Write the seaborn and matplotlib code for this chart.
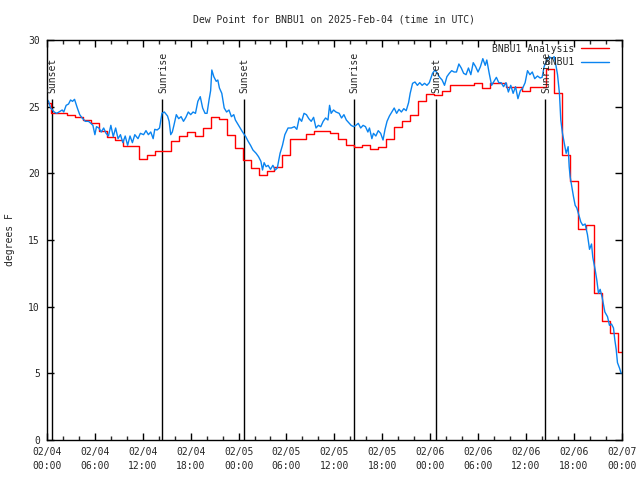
import numpy as np
import pandas as pd
import matplotlib
matplotlib.use("Agg")
import matplotlib.pyplot as plt
import seaborn as sns
from matplotlib.ticker import MultipleLocator

# ---------------- data (hours since 2025-02-04 00:00 UTC) ----------------
title = "Dew Point for BNBU1 on 2025-Feb-04 (time in UTC)"

# hourly analysis, each value holds from its hour to the next (step)
analysis_hours = np.arange(-0.5, 72.0, 1.0)
analysis_dewpt = [
    25.3, 24.5, 24.5, 24.4, 24.25, 24.0, 23.75, 23.2, 22.7, 22.5,
    22.05, 22.05, 21.05, 21.4, 21.7, 21.7, 22.4, 22.8, 23.1, 22.8,
    23.4, 24.2, 24.1, 22.9, 21.9, 21.0, 20.4, 19.9, 20.2, 20.5,
    21.4, 22.6, 22.6, 22.95, 23.2, 23.2, 23.0, 22.6, 22.1, 22.0,
    22.1, 21.8, 21.95, 22.55, 23.45, 23.95, 24.4, 25.45, 25.95, 25.9,
    26.2, 26.6, 26.6, 26.6, 26.75, 26.4, 26.75, 26.75, 26.45, 26.45,
    26.2, 26.45, 26.45, 27.8, 26.0, 21.4, 19.45, 15.8, 16.1, 11.0,
    8.9, 8.05, 6.6,
]

obs_hours = [
    0.0, 0.2, 0.45, 0.7, 0.9, 1.2, 1.5, 1.9, 2.1, 2.4, 2.7, 2.95, 3.2, 3.45, 3.8,
    4.1, 4.4, 4.8, 5.2, 5.5, 5.75, 6.0, 6.2, 6.5, 6.8, 7.1, 7.4, 7.7, 8.0, 8.3,
    8.6, 8.9, 9.2, 9.5, 9.8, 10.1, 10.4, 10.7, 11.0, 11.4, 11.7, 12.1, 12.4, 12.7, 13.0,
    13.3, 13.5, 13.8, 14.1, 14.4, 14.7, 15.1, 15.3, 15.5, 15.7, 15.9, 16.2, 16.5, 16.8, 17.1,
    17.4, 17.7, 18.0, 18.3, 18.6, 18.9, 19.2, 19.5, 19.8, 20.05, 20.3, 20.5, 20.65, 20.9, 21.2,
    21.4, 21.6, 21.9, 22.2, 22.5, 22.8, 23.1, 23.4, 23.6, 23.8, 24.2, 24.5, 24.9, 25.2, 25.5,
    25.8, 26.2, 26.5, 26.8, 27.0, 27.2, 27.45, 27.7, 28.0, 28.3, 28.6, 28.85, 29.2, 29.5, 29.8,
    30.2, 30.6, 31.0, 31.3, 31.6, 31.9, 32.2, 32.5, 32.8, 33.1, 33.4, 33.7, 34.0, 34.3, 34.6,
    34.9, 35.2, 35.4, 35.6, 35.9, 36.2, 36.6, 36.9, 37.2, 37.5, 37.8, 38.1, 38.4, 38.7, 39.0,
    39.3, 39.6, 39.9, 40.2, 40.4, 40.7, 40.9, 41.2, 41.5, 41.8, 42.1, 42.35, 42.6, 42.9, 43.2,
    43.5, 43.8, 44.1, 44.4, 44.7, 45.0, 45.3, 45.5, 45.8, 46.1, 46.4, 46.7, 47.0, 47.3, 47.6,
    47.9, 48.1, 48.3, 48.6, 48.9, 49.2, 49.5, 49.8, 50.1, 50.4, 50.7, 51.0, 51.3, 51.6, 51.9,
    52.2, 52.5, 52.8, 53.1, 53.4, 53.7, 54.0, 54.3, 54.6, 54.9, 55.1, 55.4, 55.7, 56.0, 56.3,
    56.6, 56.9, 57.2, 57.5, 57.8, 58.1, 58.4, 58.7, 59.0, 59.3, 59.6, 59.9, 60.2, 60.5, 60.8,
    61.1, 61.45, 61.78, 62.03, 62.28, 62.62, 62.91, 63.25, 63.54, 63.79, 63.96, 64.2, 64.37, 64.58, 64.79,
    65.04, 65.29, 65.42, 65.54, 65.75, 65.96, 66.17, 66.38, 66.67, 66.88, 67.13, 67.42, 67.71, 67.97, 68.22,
    68.38, 68.68, 68.88, 69.09, 69.3, 69.55, 69.89, 70.22, 70.47, 70.72, 70.97, 71.14, 71.31, 71.47, 71.72,
    71.93,
]
obs_dewpt = [
    25.55, 25.4, 24.9, 24.75, 24.6, 24.5, 24.6, 24.75, 24.6, 25.1, 25.2, 25.5, 25.4, 25.55, 24.9,
    24.4, 24.15, 23.9, 23.9, 23.75, 23.6, 22.9, 23.5, 23.4, 23.1, 23.4, 23.0, 22.8, 23.6, 22.75,
    23.4, 22.6, 22.9, 22.3, 22.8, 22.1, 22.8, 22.3, 22.9, 22.6, 23.0, 22.9, 23.2, 22.9, 23.1,
    22.6, 23.3, 23.25, 23.4, 24.5, 24.6, 24.3, 23.9, 22.9, 23.1, 23.6, 24.4, 24.1, 24.25, 23.9,
    24.2, 24.6, 24.4, 24.6, 24.5, 25.4, 25.75, 24.9, 24.5, 24.5, 25.5, 26.2, 27.75, 27.25, 26.9,
    27.0, 26.4, 26.0, 24.9, 24.6, 24.75, 24.25, 24.4, 24.0, 23.8, 23.4, 23.1, 22.75, 22.4, 22.1,
    21.75, 21.5, 21.25, 20.9, 20.25, 20.8, 20.5, 20.6, 20.3, 20.6, 20.25, 20.4, 21.5, 22.1, 22.9,
    23.4, 23.4, 23.5, 23.3, 24.15, 23.9, 24.5, 24.4, 24.1, 23.9, 24.2, 23.4, 23.6, 23.5, 23.9,
    24.15, 24.0, 25.1, 24.5, 24.75, 24.6, 24.5, 24.15, 24.4, 24.0, 23.8, 23.6, 23.5, 23.6, 23.75,
    23.4, 23.6, 23.5, 23.1, 23.4, 22.6, 23.0, 22.8, 23.2, 23.0, 22.5, 23.3, 23.9, 24.3, 24.6,
    24.9, 24.5, 24.8, 24.6, 24.85, 24.7, 25.3, 26.0, 26.75, 26.85, 26.6, 26.8, 26.6, 26.75, 26.6,
    26.8, 27.15, 27.5, 27.75, 27.5, 27.2, 27.0, 26.6, 27.25, 27.5, 27.7, 27.6, 27.6, 28.2, 27.9,
    27.5, 27.4, 27.9, 27.4, 28.3, 28.0, 27.6, 28.0, 28.6, 28.1, 28.5, 27.5, 26.6, 26.9, 27.2,
    26.8, 26.8, 26.5, 26.8, 26.1, 26.6, 26.0, 26.5, 25.6, 26.2, 26.4, 26.8, 27.7, 27.4, 27.6,
    27.1, 27.3, 27.15, 27.2, 28.0, 28.5, 28.75, 28.6, 28.75, 28.0, 27.4, 26.0, 24.0, 23.0, 22.3,
    21.5, 22.0, 20.5, 19.75, 19.0, 18.25, 17.6, 17.4, 16.8, 16.35, 16.1, 16.2, 15.4, 14.3, 14.7,
    13.7, 12.75, 12.0, 11.0, 11.3, 10.7, 9.6, 9.25, 8.6, 8.7, 8.4, 7.5, 6.8, 5.8, 5.4,
    5.0,
]

sun_hours = [0.62, 14.45, 24.65, 38.43, 48.68, 62.42]
sun_labels = ["Sunset", "Sunrise", "Sunset", "Sunrise", "Sunset", "Sunrise"]

xtick_hours = [0, 6, 12, 18, 24, 30, 36, 42, 48, 54, 60, 66, 72]
xtick_labels = ["02/04\n00:00", "02/04\n06:00", "02/04\n12:00", "02/04\n18:00",
                "02/05\n00:00", "02/05\n06:00", "02/05\n12:00", "02/05\n18:00",
                "02/06\n00:00", "02/06\n06:00", "02/06\n12:00", "02/06\n18:00",
                "02/07\n00:00"]
ytick_values = [0, 5, 10, 15, 20, 25, 30]

# ---------------- styling ----------------
sns.set_style("ticks")
plt.rcParams["font.family"] = ["DejaVu Sans Mono"]
plt.rcParams["font.size"] = 7
FS = 7

fig = plt.figure(figsize=(6.4, 4.8), dpi=100)
ax = fig.add_axes([47 / 640, 40 / 480, 574.7 / 640, 400 / 480])

ana_x = list(analysis_hours) + [72.0]
ana_y = list(analysis_dewpt) + [analysis_dewpt[-1]]
df_ana = pd.DataFrame({"hour": ana_x, "dewpt": ana_y})
df_obs = pd.DataFrame({"hour": obs_hours, "dewpt": obs_dewpt})

sns.lineplot(data=df_ana, x="hour", y="dewpt", ax=ax, color="#ff0000", lw=1.0,
             drawstyle="steps-post", estimator=None, sort=False, label="BNBU1 Analysis")
sns.lineplot(data=df_obs, x="hour", y="dewpt", ax=ax, color="#0a84f0", lw=1.0,
             estimator=None, sort=False, label="         BNBU1")

ax.vlines(sun_hours, 0, 25.6, color="black", lw=1.0, zorder=1)
for h, lab in zip(sun_hours, sun_labels):
    ax.text(h + 0.1, 26.05, lab, rotation=90, ha="center", va="bottom", fontsize=FS)

ax.set_xlim(0, 72)
ax.set_ylim(0, 30)
ax.set_xticks(xtick_hours)
ax.set_xticklabels(xtick_labels, fontsize=FS, linespacing=1.45)
ax.xaxis.set_minor_locator(MultipleLocator(2))
ax.set_yticks(ytick_values)
ax.set_yticklabels([str(v) for v in ytick_values], fontsize=FS)
ax.tick_params(axis="both", which="major", direction="in", length=5, width=1,
               top=True, right=True, color="black")
ax.tick_params(axis="x", which="minor", direction="in", length=3, width=1,
               top=True, bottom=True)
ax.tick_params(axis="x", which="major", pad=5)
ax.tick_params(axis="y", which="major", pad=5)
for s in ax.spines.values():
    s.set_color("black")
    s.set_linewidth(1.0)
    s.set_visible(True)
ax.set_xlabel("")
ax.set_ylabel("")
ax.grid(False)

leg = ax.legend(loc="upper right", bbox_to_anchor=(0.985, 1.0), frameon=False,
                markerfirst=False, fontsize=FS, handlelength=2.9, handletextpad=0.7,
                labelspacing=0.35, borderaxespad=0.2, borderpad=0.2)

fig.text(334 / 640, 1 - 19 / 480, title, ha="center", va="center", fontsize=FS)
fig.text(10 / 640, 0.5, "degrees F", rotation=90, ha="center", va="center", fontsize=FS)

fig.savefig("out.png", dpi=100)
